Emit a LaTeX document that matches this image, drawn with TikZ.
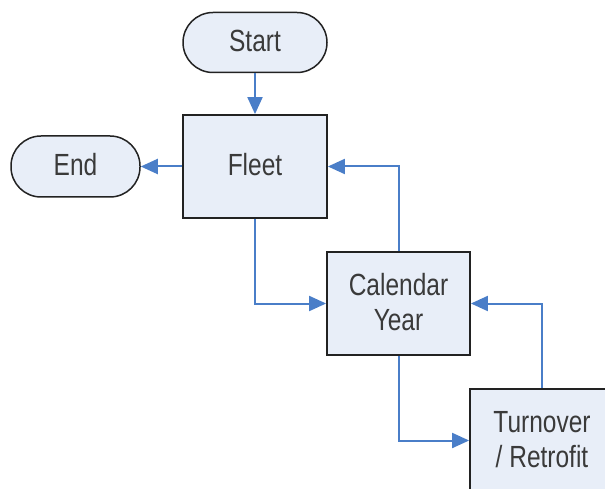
\documentclass[tikz,border=0pt]{standalone}
\usepackage{fontspec}
\setmainfont{Liberation Sans}
\usetikzlibrary{arrows.meta}
\definecolor{boxfill}{HTML}{E8EEF8}
\definecolor{arrowblue}{HTML}{4A7EC8}
\definecolor{txt}{HTML}{3A3A3A}
\definecolor{edge}{HTML}{222222}
\newcommand{\stretchtxt}[1]{\raisebox{-2pt}[\height][\depth]{\scalebox{1}[1.25]{\begin{tabular}{@{}c@{}}#1\end{tabular}}}}
\begin{document}
\begin{tikzpicture}[x=1pt,y=-1pt,
  box/.style={draw=edge, line width=1.8pt, fill=boxfill, minimum width=144pt, minimum height=103pt,
    font=\fontsize{24.5}{28}\selectfont, text=txt, align=center, inner sep=0pt},
  term/.style={draw=edge, line width=1.5pt, fill=boxfill, rounded corners=30pt, minimum height=60pt,
    font=\fontsize{24.5}{28}\selectfont, text=txt, align=center, inner sep=0pt},
  flow/.style={draw=arrowblue, line width=2pt, -{Triangle[length=17pt,width=15pt]}}]
\useasboundingbox (0,0) rectangle (605,489);
\clip (0,0) rectangle (605,489);
\node[term, minimum width=144pt] (start) at (255,42.5) {\stretchtxt{Start}};
\node[term, minimum width=129pt, minimum height=61pt] (end) at (75.5,166.5) {\stretchtxt{End}};
\node[box] (fleet) at (255,166.5) {\stretchtxt{Fleet}};
\node[box, minimum width=143pt] (cal) at (398.5,303.5) {\stretchtxt{Calendar\\Year}};
\node[box] (turn) at (542,440.5) {\stretchtxt{Turnover\\/ Retrofit}};
\draw[flow] (start) -- (fleet);
\draw[flow] (fleet.west) -- (end.east);
\draw[flow] (fleet.south) |- (cal.west);
\draw[flow] (cal.north) |- (fleet.east);
\draw[flow] (cal.south) |- (turn.west);
\draw[flow] (turn.north) |- (cal.east);
\end{tikzpicture}
\end{document}
